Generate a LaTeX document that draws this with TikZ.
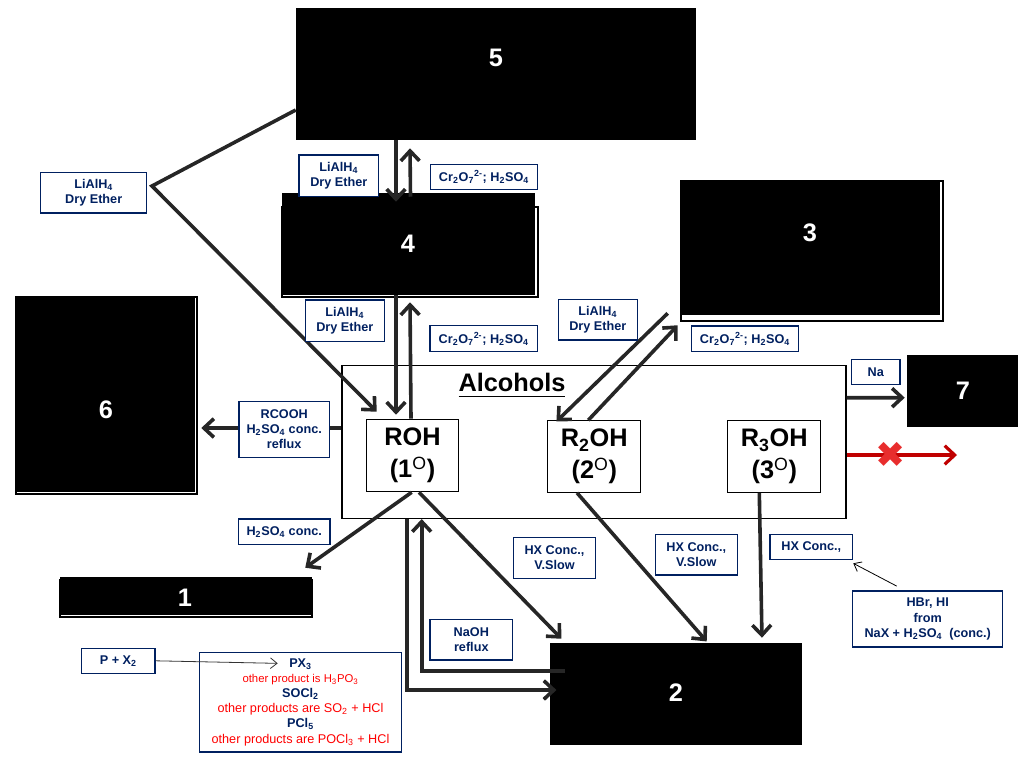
\documentclass[tikz,border=0pt]{standalone}
\usepackage{fontspec}
\setmainfont{Liberation Sans}
\newfontfamily\djv{DejaVu Sans}
\usetikzlibrary{arrows.meta,calc}
\definecolor{navy}{RGB}{0,32,96}
\definecolor{ink}{RGB}{38,38,38}
\definecolor{xred}{RGB}{192,0,0}
\definecolor{crossred}{RGB}{232,45,45}
\definecolor{txtred}{RGB}{255,0,0}
\newcommand{\ulbox}[1]{\setbox0\hbox{#1}\rlap{\rule[-4.2pt]{\wd0}{1.1pt}}\box0}
\newcommand{\sbs}[1]{\textsubscript{#1}}
\newcommand{\sps}[1]{\textsuperscript{#1}}
\begin{document}
\begin{tikzpicture}[x=0.75pt,y=-0.75pt,
  wh/.style 2 args={minimum width=#1*0.75pt, minimum height=#2*0.75pt},
  lbl/.style={draw=navy, line width=0.9pt, fill=white, text=navy,
    font=\fontsize{9.5}{11.3}\selectfont\bfseries, align=center, inner sep=0pt},
  blk/.style={fill=black, draw=none, inner sep=0pt},
  num/.style={text=white, font=\fontsize{19}{22}\selectfont\bfseries, inner sep=0pt},
  frame/.style={draw=black, line width=0.8pt},
  alcb/.style={draw=black, line width=0.8pt, fill=white, inner sep=0pt},
  ohb/.style={draw=black, line width=0.8pt, fill=white, inner sep=0pt, align=center,
    font=\fontsize{19}{23.8}\selectfont\bfseries},
  arr/.style={draw=ink, line width=2.7pt, -{Straight Barb[length=7.5pt,width=14pt]}},
  thin/.style={draw=black, line width=0.6pt, -{Straight Barb[length=5pt,width=8pt]}}
]
\useasboundingbox (0,0) rectangle (1024,768);

% ---- black product boxes ----
\node[blk, wh={400}{132}] (b5) at (496,74) {};
\node[num] (n5) at (496,58) {5};
\draw[frame] (282,207) rectangle (538,297);
\node[blk, wh={253}{102}] (b4) at (408.5,244) {};
\node[num] (n4) at (408,244) {4};
\draw[frame] (681,181) rectangle (943,321);
\node[blk, wh={260}{134}] (b3) at (810,248) {};
\node[num] (n3) at (810,233) {3};
\draw[frame] (16,297) rectangle (197,494);
\node[blk, wh={179}{195}] (b6) at (105.5,394.5) {};
\node[num] (n6) at (106,410) {6};
\node[blk, wh={111}{72}] (b7) at (962.5,391) {};
\node[num] (n7) at (963,391) {7};
\draw[frame] (60,580) rectangle (312,617);
\node[blk, wh={252}{38}] (b1) at (186,596) {};
\node[num] (n1) at (185,598) {1};
\node[blk, wh={252}{102}] (b2) at (676,694) {};
\node[num] (n2) at (676,693) {2};

% ---- alcohols ----
\node[alcb, wh={504}{153}] (alc) at (594,442) {};
\node[font=\fontsize{19}{22}\selectfont\bfseries, inner sep=0pt] (alct) at (512,385) {\ulbox{Alcohols}};
\node[ohb, wh={92.5}{72.5}] (roh) at (412.5,455.5) {ROH\\(1\sps{\mdseries O})};
\node[ohb, wh={92.7}{71.6}] (r2) at (594.3,456.5) {R\sbs{2}OH\\(2\sps{\mdseries O})};
\node[ohb, wh={92.7}{71.6}] (r3) at (774.3,456.5) {R\sbs{3}OH\\(3\sps{\mdseries O})};

% ---- connectors ----
\coordinate (v1) at (152,186);
\draw[arr] ($(b5.west)+(0,36)$) -- (v1) -- ($(roh.north west)+(11,-7)$);
\draw[arr] ($(b5.south)+(-100,0)$) -- ($(b4.north)+(-12.5,9)$);
\draw[arr] ($(b4.north)+(2,4)$) -- ($(b5.south)+(-86,8)$);
\draw[arr] ($(b4.south)+(-12.5,0)$) -- ($(roh.north)+(-16.5,-4)$);
\draw[arr] ($(roh.north)+(-1.5,0)$) -- ($(b4.south)+(1.5,7)$);
\draw[arr] ($(b3.south west)+(-12,-2)$) -- ($(r2.north west)+(9,1.3)$);
\draw[arr] ($(r2.north)+(-6,0)$) -- ($(b3.south west)+(-2,10)$);
\draw[arr] ($(alc.west)+(0,-14)$) -- ($(b6.east)+(6,33.5)$);
\draw[arr] ($(alc.east)+(0,-44.3)$) -- ($(b7.west)+(-2,6.7)$);
\coordinate (redend) at (957,455);
\draw[arr, draw=xred, line width=2.4pt] ($(alc.east)+(0,13)$) -- (redend);
\node[text=crossred, font=\djv\fontsize{27}{27}\selectfont, inner sep=0pt] (xx) at (890.7,455) {✖};
\draw[arr] ($(roh.south)+(-0.8,0)$) -- ($(b1.north east)+(-7,-9)$);
\draw[arr] ($(roh.south)+(6.5,0)$) -- ($(b2.north west)+(11.7,-4)$);
\draw[arr] ($(r2.south)+(-17.3,0)$) -- ($(b2.north)+(30.7,-1.3)$);
\draw[arr] ($(r3.south)+(-15,0)$) -- ($(b2.north east)+(-40.3,-5)$);
\draw[arr] ($(alc.south)+(-187.3,0)$) |- ($(b2.west)+(6.7,-4)$);
\draw[arr] ($(b2.west)+(15,-23.3)$) -| ($(alc.south)+(-172.3,0)$);

% ---- condition labels ----
\node[lbl, wh={106}{40.3}] (lah1) at (93.7,192.8) {LiAlH\sbs{4}\\Dry Ether};
\node[lbl, wh={79.7}{41.7}] (lah2) at (338.8,175.8) {LiAlH\sbs{4}\\Dry Ether};
\node[lbl, wh={106.6}{25}] (cr1) at (484,176.8) {Cr\sbs{2}O\sbs{7}\sps{2-}; H\sbs{2}SO\sbs{4}};
\node[lbl, wh={79}{41.7}] (lah3) at (344.8,320.8) {LiAlH\sbs{4}\\Dry Ether};
\node[lbl, wh={107.3}{26}] (cr2) at (483.7,338.7) {Cr\sbs{2}O\sbs{7}\sps{2-}; H\sbs{2}SO\sbs{4}};
\node[lbl, wh={79}{40.7}] (lah4) at (597.8,319.7) {LiAlH\sbs{4}\\Dry Ether};
\node[lbl, wh={106.6}{25.7}] (cr3) at (745,338.8) {Cr\sbs{2}O\sbs{7}\sps{2-}; H\sbs{2}SO\sbs{4}};
\node[lbl, wh={90.3}{55.6}] (rcooh) at (284.2,429.5) {RCOOH\\H\sbs{2}SO\sbs{4} conc.\\reflux};
\node[lbl, wh={48.3}{25}] (na) at (875.8,371.8) {Na};
\node[lbl, wh={91.7}{25.3}] (hso) at (284.2,531.7) {H\sbs{2}SO\sbs{4} conc.};
\node[lbl, wh={82.4}{41}] (hx1) at (554.5,557.8) {HX Conc.,\\V.Slow};
\node[lbl, wh={82}{40.7}] (hx2) at (696.3,554.7) {HX Conc.,\\V.Slow};
\node[lbl, wh={82.7}{25}] (hx3) at (811.3,546.8) {HX Conc.,};
\node[lbl, wh={150}{56}] (hbr) at (927.7,619) {HBr, HI\\from\\NaX + H\sbs{2}SO\sbs{4}\ \ (conc.)};
\node[lbl, wh={82.7}{40.7}] (naoh) at (471.3,639.7) {NaOH\\reflux};
\node[lbl, wh={73.3}{25}] (px2) at (118.3,660.8) {P + X\sbs{2}};
\node[lbl, wh={202.4}{99.3}, font=\fontsize{9.5}{11.3}\selectfont] (pbox) at (300.5,702.3)
  {\textbf{PX\sbs{3}}\\
   {\color{txtred}\fontsize{8.5}{11.3}\selectfont other product is H\sbs{3}PO\sbs{3}}\\
   \textbf{SOCl\sbs{2}}\\
   {\color{txtred}other products are SO\sbs{2} + HCl}\\
   \textbf{PCl\sbs{5}}\\
   {\color{txtred}other products are POCl\sbs{3} + HCl}};

% ---- thin pointers ----
\draw[thin, draw=black!80] (px2.east) -- ($(pbox.north west)+(79,11.3)$);
\draw[thin] ($(hbr.north)+(-31,-4.3)$) -- ($(hx3.south east)+(0,3.4)$);
\end{tikzpicture}
\end{document}
